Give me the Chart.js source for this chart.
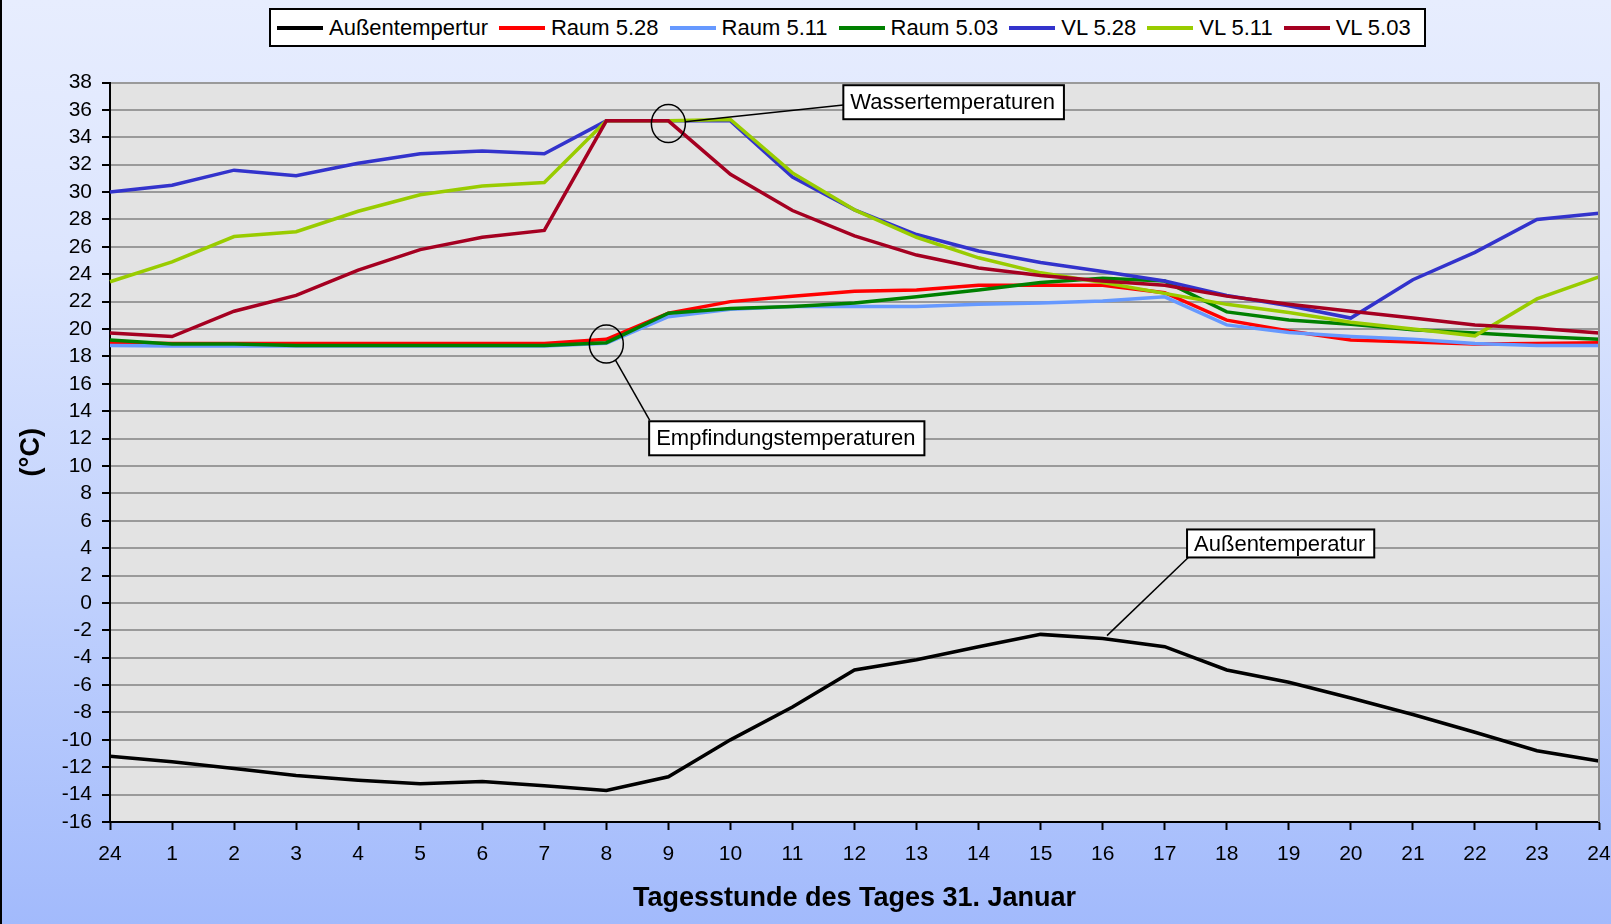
<!DOCTYPE html>
<html lang="de">
<head>
<meta charset="utf-8">
<title>Temperaturverlauf 31. Januar</title>
<script src="https://cdn.jsdelivr.net/npm/chart.js@4.4.1/dist/chart.umd.min.js"></script>
<style>
  html, body { margin: 0; padding: 0; }
  body {
    width: 1611px; height: 924px; overflow: hidden;
    font-family: "Liberation Sans", Arial, sans-serif;
    background: linear-gradient(to bottom, #e7edfe 0%, #dce5fe 28%, #c3d3fd 60%, #a2bafc 100%);
  }
  #wrap { position: relative; width: 1611px; height: 924px; }
  #wrap::before {
    content: ""; position: absolute; left: 0; top: 0; bottom: 0; width: 2px; background: #000; z-index: 2;
  }
  #chart { position: absolute; left: 0; top: 0; }
  #legend {
    position: absolute; left: 269px; top: 8px; width: 1157px; height: 39px;
    box-sizing: border-box; background: #fff; border: 2px solid #000;
    display: flex; align-items: center; padding-left: 6px;
    font-size: 22px; color: #000; white-space: nowrap;
  }
  .item { display: flex; align-items: center; margin-right: 11px; }
  .swatch { width: 46px; height: 4px; margin-right: 6px; }
</style>
</head>
<body>
<div id="wrap">
  <canvas id="chart" width="1611" height="924"></canvas>
  <div id="legend"></div>
</div>
<script>
// Stunden des Tages (24 = Mitternacht)
const HOURS = ["24","1","2","3","4","5","6","7","8","9","10","11","12",
               "13","14","15","16","17","18","19","20","21","22","23","24"];

const AUSSEN   = [-11.2,-11.6,-12.1,-12.6,-12.95,-13.2,-13.05,-13.35,-13.7,-12.7,-10.0,-7.6,-4.9,
                  -4.15,-3.2,-2.3,-2.6,-3.2,-4.9,-5.8,-6.95,-8.15,-9.45,-10.8,-11.55];
const RAUM_528 = [19.0,18.95,18.95,18.95,18.95,18.95,18.95,18.95,19.25,21.15,22.0,22.4,22.75,
                  22.85,23.2,23.2,23.2,22.65,20.65,19.85,19.2,19.05,18.9,18.95,19.0];
const RAUM_511 = [18.8,18.75,18.75,18.75,18.75,18.75,18.75,18.75,18.95,20.9,21.45,21.65,21.65,
                  21.65,21.8,21.9,22.05,22.35,20.3,19.75,19.45,19.25,18.95,18.8,18.8];
const RAUM_503 = [19.2,18.9,18.9,18.8,18.8,18.8,18.8,18.8,19.0,21.15,21.5,21.65,21.9,
                  22.35,22.85,23.4,23.7,23.5,21.25,20.65,20.35,19.95,19.7,19.45,19.25];
const VL_528   = [30.0,30.5,31.6,31.2,32.1,32.8,33.0,32.8,35.2,35.2,35.2,31.1,28.7,
                  26.9,25.7,24.85,24.2,23.5,22.45,21.7,20.8,23.6,25.6,28.0,28.45];
const VL_511   = [23.45,24.9,26.75,27.1,28.6,29.8,30.45,30.7,35.2,35.2,35.3,31.4,28.7,
                  26.7,25.2,24.1,23.4,22.6,21.8,21.2,20.5,20.0,19.5,22.2,23.8];
const VL_503   = [19.7,19.45,21.3,22.45,24.3,25.8,26.7,27.2,35.2,35.2,31.3,28.65,26.8,
                  25.4,24.45,23.9,23.5,23.2,22.4,21.8,21.3,20.8,20.3,20.05,19.7];

const Y_MIN = -16;
const Y_MAX = 38;
const Y_STEP = 2;

const SERIES = [
  { label: "Außentempertur", data: AUSSEN,   color: "#000000" },
  { label: "Raum 5.28",      data: RAUM_528, color: "#ff0000" },
  { label: "Raum 5.11",      data: RAUM_511, color: "#6699ff" },
  { label: "Raum 5.03",      data: RAUM_503, color: "#008000" },
  { label: "VL 5.28",        data: VL_528,   color: "#3333cc" },
  { label: "VL 5.11",        data: VL_511,   color: "#99cc00" },
  { label: "VL 5.03",        data: VL_503,   color: "#a50021" }
];

// Beschriftungen im Diagramm (Koordinaten in Stundenindex / °C)
const NOTES = [
  { text: "Wassertemperaturen", ring: [9, 35.0], box: [11.82, 36.56], h: 34, to: [11.82, 36.35] },
  { text: "Empfindungstemperaturen", ring: [8, 18.9], box: [8.69, 12.02], h: 34, to: [8.70, 13.33] },
  { text: "Außentemperatur", from: [16.07, -2.39], box: [17.36, 4.34], h: 28, to: [17.38, 3.31] }
];

const $ = (id) => document.getElementById(id);

// Legende als HTML-Kasten
$("legend").innerHTML = SERIES.map(s =>
  `<div class="item"><span class="swatch" style="background:${s.color}"></span><span>${s.label}</span></div>`
).join("");

const plotBg = {
  id: "plotBg",
  beforeDraw(chart){
    const { ctx, chartArea: a } = chart;
    ctx.save();
    ctx.fillStyle = "#e3e3e3";
    ctx.fillRect(a.left, a.top, a.right - a.left, a.bottom - a.top);
    ctx.restore();
  },
  afterDraw(chart){
    const { ctx, chartArea: a } = chart;
    ctx.save();
    ctx.strokeStyle = "#8c8c8c";
    ctx.lineWidth = 2;
    ctx.beginPath();
    ctx.moveTo(a.right, a.top);
    ctx.lineTo(a.right, a.bottom);
    ctx.stroke();
    ctx.restore();
  }
};

const notesPlugin = {
  id: "notes",
  afterDatasetsDraw(chart){
    const { ctx, scales: { x, y } } = chart;
    const px = (p) => [x.getPixelForValue(p[0]), y.getPixelForValue(p[1])];
    ctx.save();
    ctx.font = '22px "Liberation Sans", Arial, sans-serif';
    ctx.strokeStyle = "#000";
    ctx.fillStyle = "#000";

    NOTES.forEach(n => {
      const [tx, ty] = px(n.to);
      let sx, sy;
      if (n.ring) {
        const [cx, cy] = px(n.ring);
        const rx = 17, ry = 19;
        ctx.lineWidth = 1.5;
        ctx.beginPath();
        ctx.ellipse(cx, cy, rx, ry, 0, 0, Math.PI * 2);
        ctx.stroke();
        const dx = tx - cx, dy = ty - cy;
        const t = 1 / Math.sqrt((dx / rx) ** 2 + (dy / ry) ** 2);
        sx = cx + dx * t;
        sy = cy + dy * t;
      } else {
        [sx, sy] = px(n.from);
      }
      ctx.lineWidth = 1.5;
      ctx.beginPath();
      ctx.moveTo(sx, sy);
      ctx.lineTo(tx, ty);
      ctx.stroke();

      const [bx, bm] = px(n.box);
      const w = ctx.measureText(n.text).width + 16;
      const by = bm - n.h / 2;
      ctx.fillStyle = "#fff";
      ctx.fillRect(bx, by, w, n.h);
      ctx.lineWidth = 2;
      ctx.strokeRect(bx, by, w, n.h);
      ctx.fillStyle = "#000";
      ctx.textBaseline = "middle";
      ctx.textAlign = "left";
      ctx.fillText(n.text, bx + 7, bm + 1);
    });
    ctx.restore();
  }
};

const tickFont = { family: '"Liberation Sans", Arial, sans-serif', size: 21 };
const titleFont = { family: '"Liberation Sans", Arial, sans-serif', size: 27, weight: "bold" };

new Chart($("chart"), {
  type: "line",
  data: {
    labels: HOURS,
    datasets: SERIES.map((s, i) => ({
      label: s.label,
      data: s.data,
      borderColor: s.color,
      backgroundColor: s.color,
      borderWidth: 3.5,
      pointRadius: 0,
      tension: 0,
      fill: false,
      order: SERIES.length - i
    }))
  },
  options: {
    responsive: false,
    animation: false,
    layout: { padding: { top: 82.5, right: 12, left: 0, bottom: 0 } },
    plugins: { legend: { display: false }, tooltip: { enabled: false } },
    scales: {
      x: {
        offset: false,
        afterFit: (s) => { s.height = 102; s.paddingLeft = 0; s.paddingRight = 0; },
        grid: { drawOnChartArea: false, drawTicks: true, tickLength: 8, tickColor: "#000", tickWidth: 2 },
        border: { color: "#000", width: 2 },
        ticks: { color: "#000", font: tickFont, padding: 12, maxRotation: 0, autoSkip: false },
        title: { display: true, text: "Tagesstunde des Tages 31. Januar", color: "#000", font: titleFont, padding: { top: 0, bottom: 9 } }
      },
      y: {
        min: Y_MIN,
        max: Y_MAX,
        afterFit: (s) => { s.width = 110; },
        grid: { color: "#9a9a9a", lineWidth: 2, tickLength: 8, tickColor: "#000", tickWidth: 2 },
        border: { color: "#000", width: 2 },
        ticks: { stepSize: Y_STEP, autoSkip: false, color: "#000", font: tickFont, padding: 10 },
        title: { display: true, text: "(°C)", color: "#000", font: titleFont, padding: { top: 15, bottom: 0 } }
      }
    }
  },
  plugins: [plotBg, notesPlugin]
});
</script>
</body>
</html>
